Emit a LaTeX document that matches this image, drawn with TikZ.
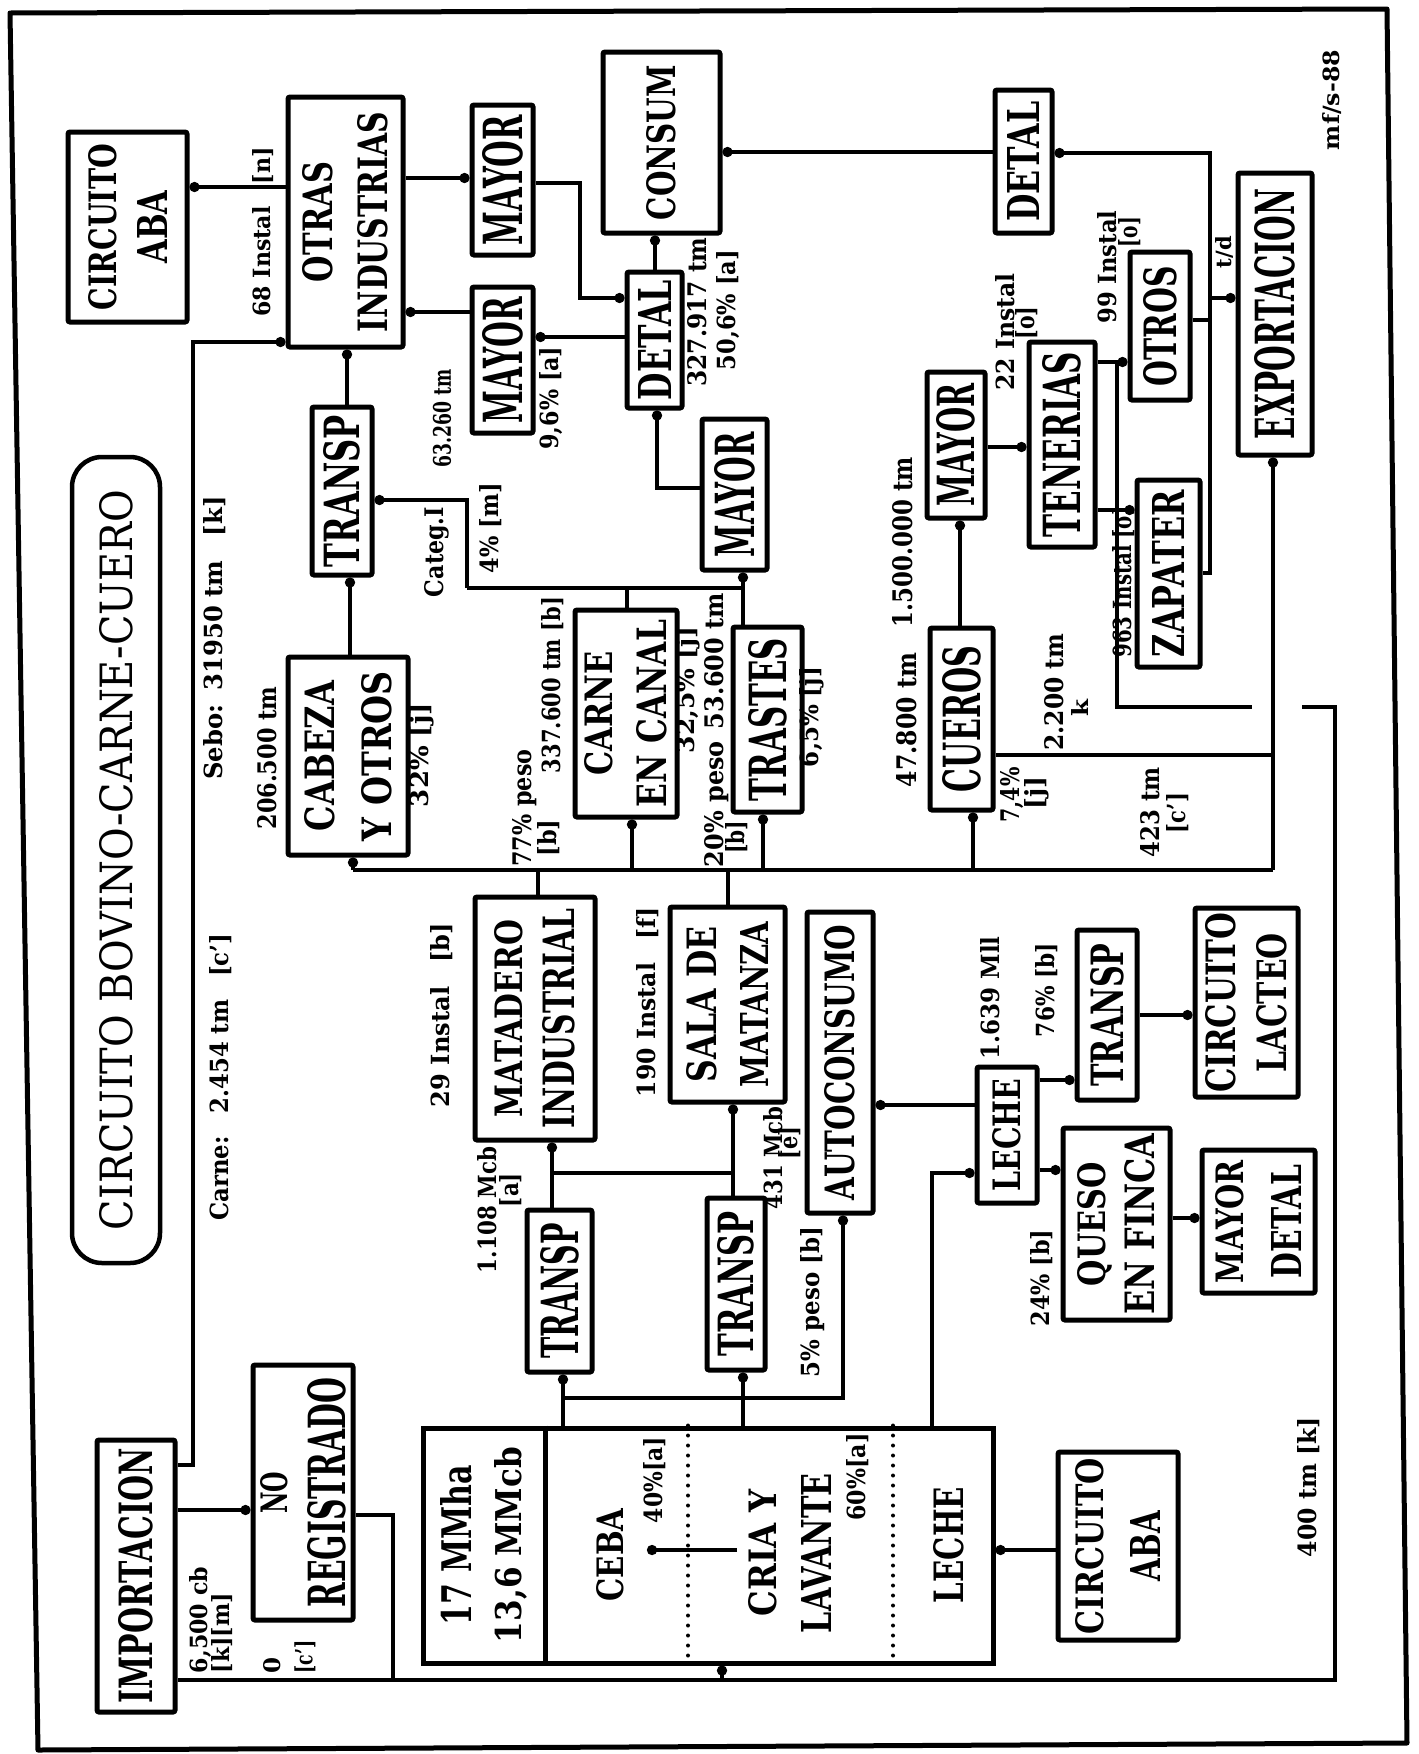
\documentclass[tikz,border=0pt]{standalone}
\usepackage{fontspec}
\usepackage{graphicx}
\setmainfont{DejaVu Serif}
\usetikzlibrary{arrows.meta}
\newcommand\R[3]{\resizebox{#1pt}{#2pt}{#3}}
\tikzset{
  bx/.style 2 args={draw, line width=5pt, rounded corners=2pt, rotate=90, minimum width=#2pt, minimum height=#1pt, inner sep=0pt, align=center, font=\bfseries},
  sk/.style={font=\bfseries\fontsize{20pt}{#1pt}\selectfont},
  lb/.style={rotate=90, inner sep=0pt, font=\bfseries},
  ln/.style={line width=4.5pt},
  cn/.style={line width=4.5pt, -{Circle[length=10pt,width=10pt]}},
  dotline/.style={line width=4pt, line cap=round, dash pattern=on 0pt off 10pt},
}
\begin{document}
\begin{tikzpicture}[x=1pt,y=-1pt]
\useasboundingbox (0,0) rectangle (1419,1754);
\fill[white] (0,0) rectangle (1419,1754);
% frame
\draw[line width=5pt, line join=round] (10,13) -- (1387,9) -- (1407,1743) -- (38,1750) -- cycle;
% title
\node[draw, line width=4.5pt, rounded corners=30pt, rotate=90, minimum width=806pt, minimum height=88pt, inner sep=0pt] (title) at (116,860) {\R{740}{33}{CIRCUITO BOVINO-CARNE-CUERO}};
% boxes
\node[bx={119}{190}, sk=51] (abaT) at (127.5,227) {\R{166}{28}{CIRCUITO}\\\R{73}{30}{ABA}};
\node[bx={115}{250}, sk=55] (otras) at (345.5,222) {\R{120}{30}{OTRAS}\\\R{220}{30}{INDUSTRIAS}};
\node[bx={61}{150}] (mayorA) at (502.5,180) {\R{130}{40}{MAYOR}};
\node[bx={61}{146}] (mayorB) at (502.5,360) {\R{126}{40}{MAYOR}};
\node[bx={117}{181}] (consum) at (661.5,142.5) {\R{155}{29}{CONSUM}};
\node[bx={55}{136}] (detalA) at (654.5,340) {\R{120}{33}{DETAL}};
\node[bx={57}{143}] (detalB) at (1023.5,161.5) {\R{120}{32}{DETAL}};
\node[bx={74}{282}] (export) at (1275,314) {\R{250}{40}{EXPORTACION}};
\node[bx={60}{168}] (transpA) at (342,491) {\R{152}{36}{TRANSP}};
\node[bx={65}{151}] (mayorC) at (734.5,494.5) {\R{125}{40}{MAYOR}};
\node[bx={120}{198}, sk=57] (cabeza) at (348,756) {\R{150}{30}{CABEZA}\\\R{170}{30}{Y OTROS}};
\node[bx={102}{207}, sk=54] (carne) at (626,713.5) {\R{124}{28}{CARNE}\\\R{187}{30}{EN CANAL}};
\node[bx={69}{185}] (trastes) at (767.5,719.5) {\R{163}{38}{TRASTES}};
\node[bx={63}{182}] (cueros) at (961.5,719) {\R{146}{38}{CUEROS}};
\node[bx={58}{146}] (mayorD) at (956,445) {\R{123}{38}{MAYOR}};
\node[bx={66}{205}] (tenerias) at (1062,444.5) {\R{185}{38}{TENERIAS}};
\node[bx={60}{148}] (otros) at (1160,326) {\R{120}{33}{OTROS}};
\node[bx={63}{187}] (zapater) at (1168.5,573.5) {\R{167}{32}{ZAPATER}};
\node[bx={120}{243}, sk=52] (matadero) at (535,1018.5) {\R{197}{28}{MATADERO}\\\R{219}{32}{INDUSTRIAL}};
\node[bx={115}{195}, sk=52] (sala) at (727.5,1004.5) {\R{156}{30}{SALA DE}\\\R{166}{28}{MATANZA}};
\node[bx={66}{301}] (autocons) at (840,1062.5) {\R{276}{30}{AUTOCONSUMO}};
\node[bx={65}{162}] (transpB) at (559.5,1291) {\R{135}{38}{TRANSP}};
\node[bx={58}{172}] (transpC) at (736,1284) {\R{145}{36}{TRANSP}};
\node[bx={60}{136}] (lecheN) at (1007,1135) {\R{113}{28}{LECHE}};
\node[bx={60}{170}] (transpD) at (1107,1015) {\R{143}{33}{TRANSP}};
\node[bx={103}{189}, sk=51] (lacteo) at (1246.5,1002.5) {\R{180}{30}{CIRCUITO}\\\R{139}{30}{LACTEO}};
\node[bx={107}{192}, sk=49] (queso) at (1116.5,1224) {\R{124}{28}{QUESO}\\\R{181}{30}{EN FINCA}};
\node[bx={113}{143}, sk=58] (mayordet) at (1258.5,1221.5) {\R{123}{28}{MAYOR}\\\R{113}{30}{DETAL}};
\node[bx={120}{188}, sk=57] (abaB) at (1118,1546) {\R{176}{28}{CIRCUITO}\\\R{70}{30}{ABA}};
\node[bx={78}{272}] (import) at (136,1576) {\R{255}{34}{IMPORTACION}};
\node[bx={100}{255}, sk=58] (noreg) at (303,1492.5) {\R{42}{27}{NO}\\\R{230}{38}{REGISTRADO}};
\node[draw, line width=5pt, minimum width=570pt, minimum height=235pt, inner sep=0pt] (finca) at (708,1545.5) {};
% finca interior
\draw[line width=5pt] (finca.north -| 545,0) -- (finca.south -| 545,0);
\draw[dotline] (finca.north -| 688,0) -- (finca.south -| 688,0);
\draw[dotline] (finca.north -| 893,0) -- (finca.south -| 893,0);
\node[lb, align=center, font=\bfseries\fontsize{20pt}{50pt}\selectfont] (ha) at (484,1545) {\R{160}{31}{17 MMha}\\\R{196}{27}{13,6 MMcb}};
\node[lb] (ceba) at (610,1555) {\R{93}{27}{CEBA}};
\node[lb] (p40) at (655,1480) {\R{86}{19}{40\%[a]}};
\node[lb, align=center, font=\bfseries\fontsize{20pt}{55pt}\selectfont] (cria) at (790,1553) {\R{127}{28}{CRIA Y}\\\R{160}{30}{LAVANTE}};
\node[lb] (p60) at (858,1477) {\R{87}{19}{60\%[a]}};
\node[lb] (lecheB) at (949,1545) {\R{116}{30}{LECHE}};
\coordinate (criaL) at (737,1550);
\coordinate (cebaR) at (647,1550);
\draw[cn] (criaL) -- (cebaR);
% upper connectors
\draw[cn] (otras.north |- 0,187) -- (abaT.south |- 0,187);
\draw[cn] (otras.south |- 0,178) -- (mayorA.north |- 0,178);
\draw[cn] (mayorB.north |- 0,312) -- (otras.south |- 0,312);
\draw[cn] (transpA.east -| 347,0) -- (otras.west -| 347,0);
\draw[cn] (cabeza.east -| 350,0) -- (transpA.west -| 350,0);
\coordinate (jL) at (467,588);
\coordinate (jR) at (743,588);
\draw[ln] (carne.east -| 627,0) -- (627,588);
\draw[ln] (jL) -- (jR);
\draw[cn] (jL) -- (467,500) -- (transpA.south |- 0,500);
\draw[cn] (trastes.east -| 743,0) -- (mayorC.west -| 743,0);
\draw[cn] (mayorC.north |- 0,488) -- (657,488) -- (detalA.west -| 657,0);
\draw[cn] (detalA.east -| 655,0) -- (consum.west -| 655,0);
\draw[cn] (mayorA.south |- 0,183) -- (580,183) -- (580,298) -- (detalA.north |- 0,298);
\draw[cn] (detalA.north |- 0,337) -- (mayorB.south |- 0,337);
\draw[cn] (detalB.north |- 0,152) -- (consum.south |- 0,152);
\draw[cn] (zapater.south |- 0,573) -- (1210,573) -- (1210,153) -- (detalB.south |- 0,153);
\draw[ln] (otros.south |- 0,320) -- (1210,320);
\draw[cn] (1210,298) -- (export.north |- 0,298);
\draw[cn] (mayorD.south |- 0,447) -- (tenerias.north |- 0,447);
\draw[cn] (cueros.east -| 960,0) -- (mayorD.west -| 960,0);
\draw[cn] (tenerias.south |- 0,362) -- (otros.north |- 0,362);
\draw[cn] (tenerias.south |- 0,510) -- (zapater.north |- 0,510);
\draw[ln] (tenerias.south |- 0,362) -| (1117,707) -- (1252,707);
\draw[ln] (1302,707) -- (1335,707) -- (1335,1680) -- (import.south |- 0,1680);
\draw[ln] (noreg.south |- 0,1515) -- (393,1515) -- (393,1680);
\draw[cn] (722,1680) -- (finca.south -| 722,0);
\draw[cn] (import.south |- 0,1465) -- (193,1465) -- (193,342) -- (otras.north |- 0,342);
\draw[cn] (import.south |- 0,1510) -- (noreg.north |- 0,1510);
% slaughter bus
\draw[ln] (353,870) -- (1273,870);
\draw[ln] (matadero.east -| 538,0) -- (538,870);
\draw[ln] (sala.east -| 728,0) -- (728,870);
\draw[cn] (353,870) -- (cabeza.west -| 353,0);
\draw[cn] (632,870) -- (carne.west -| 632,0);
\draw[cn] (763,870) -- (trastes.west -| 763,0);
\draw[cn] (973,870) -- (cueros.west -| 973,0);
\draw[cn] (1273,870) -- (export.west -| 1273,0);
\draw[ln] (cueros.south |- 0,755) -- (1273,755);
% lower connectors
\draw[cn] (transpB.east -| 552,0) -- (matadero.west -| 552,0);
\draw[ln] (552,1173) -- (733,1173);
\draw[cn] (transpC.east -| 733,0) -- (sala.west -| 733,0);
\draw[cn] (finca.north -| 563,0) -- (transpB.west -| 563,0);
\draw[cn] (finca.north -| 743,0) -- (transpC.west -| 743,0);
\draw[cn] (563,1398) -- (843,1398) -- (autocons.west -| 843,0);
\draw[cn] (finca.north -| 932,0) -- (932,1173) -- (lecheN.north |- 0,1173);
\draw[cn] (lecheN.north |- 0,1105) -- (autocons.south |- 0,1105);
\draw[cn] (lecheN.south |- 0,1080) -- (transpD.north |- 0,1080);
\draw[cn] (lecheN.south |- 0,1170) -- (queso.north |- 0,1170);
\draw[cn] (transpD.south |- 0,1015) -- (lacteo.north |- 0,1015);
\draw[cn] (queso.south |- 0,1218) -- (mayordet.north |- 0,1218);
\draw[cn] (abaB.north |- 0,1550) -- (finca.east |- 0,1550);
% labels
\node[lb] (l1) at (263,232) {\R{169}{18}{68 Instal\hspace{1em}[n]}};
\node[lb] (l2) at (215,638) {\R{283}{19}{Sebo:\hspace{0.6em}31950 tm\hspace{1em}[k]}};
\node[lb] (l3) at (221,1077) {\R{287}{19}{Carne:\hspace{1em}2.454 tm\hspace{1em}[c']}};
\node[lb] (l4) at (442,418) {\R{98}{18}{63.260 tm}};
\node[lb] (l5) at (551,398) {\R{103}{19}{9,6\% [a]}};
\node[lb] (l6) at (697,312) {\R{149}{19}{327.917 tm}};
\node[lb] (l7) at (728,310) {\R{120}{19}{50,6\% [a]}};
\node[lb] (l8) at (437,552) {\R{90}{19}{Categ.I}};
\node[lb] (l9) at (491,528) {\R{90}{19}{4\% [m]}};
\node[lb] (l10) at (267,758) {\R{143}{19}{206.500 tm}};
\node[lb] (l11) at (422,755) {\R{104}{19}{32\% [j]}};
\node[lb] (l12) at (525,808) {\R{117}{19}{77\% peso}};
\node[lb] (l13) at (549,838) {\R{37}{19}{[b]}};
\node[lb] (l14) at (553,685) {\R{176}{19}{337.600 tm [b]}};
\node[lb] (l15) at (688,690) {\R{126}{19}{32,5\% [j]}};
\node[lb] (l16) at (717,730) {\R{274}{19}{20\% peso\hspace{0.5em}53.600 tm}};
\node[lb] (l17) at (737,837) {\R{33}{19}{[b]}};
\node[lb] (l18) at (812,717) {\R{100}{19}{6,5\% [j]}};
\node[lb] (l19) at (907,720) {\R{134}{20}{47.800 tm}};
\node[lb] (l20) at (903,542) {\R{170}{20}{1.500.000 tm}};
\node[lb] (l21) at (1005,332) {\R{117}{19}{22 Instal}};
\node[lb] (l22) at (1027,323) {\R{33}{19}{[o]}};
\node[lb] (l23) at (1107,267) {\R{113}{19}{99 Instal}};
\node[lb] (l24) at (1130,232) {\R{30}{19}{[o]}};
\node[lb] (l25) at (1124,582) {\R{151}{19}{963 Instal [o]}};
\node[lb] (l26) at (1224,252) {\R{32}{16}{t/d}};
\node[lb] (l27) at (1012,795) {\R{55}{19}{7,4\%}};
\node[lb] (l28) at (1037,793) {\R{33}{19}{[j]}};
\node[lb] (l29) at (1054,692) {\R{117}{19}{2.200 tm}};
\node[lb] (l30) at (1080,708) {\R{17}{17}{k}};
\node[lb] (l31) at (1150,812) {\R{90}{19}{423 tm}};
\node[lb] (l32) at (1178,813) {\R{40}{19}{[c']}};
\node[lb] (l33) at (442,1015) {\R{184}{19}{29 Instal\hspace{1em}[b]}};
\node[lb] (l34) at (487,1210) {\R{126}{19}{1.108 Mcb}};
\node[lb] (l35) at (511,1190) {\R{34}{19}{[a]}};
\node[lb] (l36) at (648,1002) {\R{190}{19}{190 Instal\hspace{1em}[f]}};
\node[lb] (l37) at (773,1158) {\R{103}{19}{431 Mcb}};
\node[lb] (l38) at (790,1143) {\R{33}{19}{[e]}};
\node[lb] (l39) at (813,1302) {\R{150}{19}{5\% peso [b]}};
\node[lb] (l40) at (990,998) {\R{123}{19}{1.639 Mll}};
\node[lb] (l41) at (1047,990) {\R{94}{19}{76\% [b]}};
\node[lb] (l42) at (1042,1278) {\R{97}{19}{24\% [b]}};
\node[lb] (l43) at (200,1620) {\R{106}{18}{6,500 cb}};
\node[lb] (l44) at (222,1633) {\R{80}{18}{[k][m]}};
\node[lb] (l45) at (272,1665) {\R{16}{17}{0}};
\node[lb] (l46) at (305,1657) {\R{33}{18}{[c']}};
\node[lb] (l47) at (1309,1487) {\R{140}{19}{400 tm [k]}};
\node[lb] (l48) at (1332,100) {\R{100}{17}{mf/s-88}};
\end{tikzpicture}
\end{document}
